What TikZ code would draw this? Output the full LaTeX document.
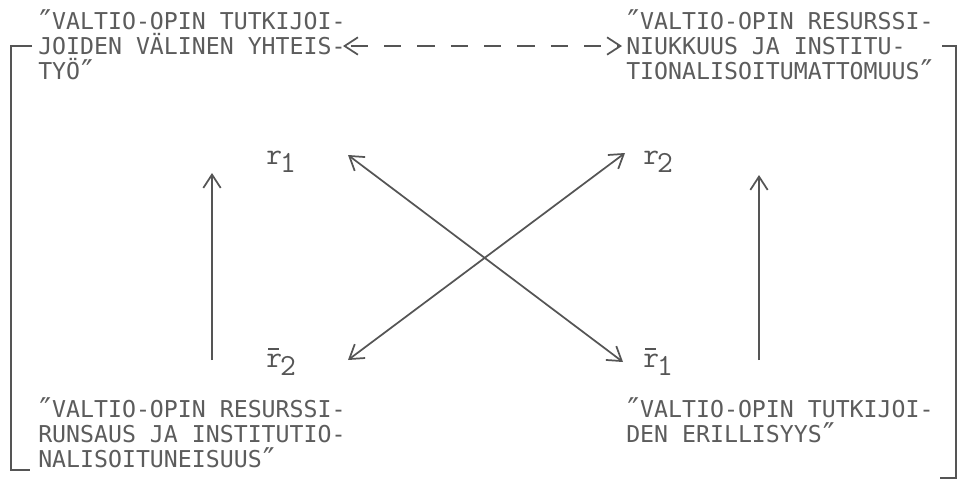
\documentclass[tikz,border=0pt]{standalone}
\usepackage{fontspec}
\newfontfamily\tw{DejaVu Sans Mono}
\newfontfamily\rf{Latin Modern Mono}
\usetikzlibrary{arrows.meta}
\definecolor{ink}{HTML}{555555}
\definecolor{tink}{HTML}{5c5c5c}
\newcommand\rbar{\rlap{\hspace{1.5pt}\raisebox{13pt}{\rule{8pt}{0.9pt}}}r}
\newcommand\sub[1]{\kern-1.5pt\raisebox{-6.5pt}{#1}}
\newcommand\qq{\makebox[0.602em][c]{\raisebox{-2.5pt}{\scalebox{1.35}{″}}}}
\begin{document}
\begin{tikzpicture}[x=0.75pt,y=-0.75pt,
  txt/.style={anchor=base west,inner sep=0pt,text=tink,font=\tw\fontsize{17.4pt}{20pt}\selectfont},
  lab/.style={anchor=base west,inner sep=0pt,text=ink,font=\rf\fontsize{23pt}{26pt}\selectfont},
  ln/.style={draw=ink,line width=1.3pt},
  tip/.tip={Straight Barb[length=10pt,width=13pt]},
  arr/.style={ln,-tip},
  darr/.style={ln,tip-tip},
]
\useasboundingbox (0,0) rectangle (962,483);
\fill[white] (0,0) rectangle (962,483);

% text blocks
\node[txt] (tl1) at (38,29) {\qq VALTIO-OPIN TUTKIJOI-};
\node[txt] (tl2) at (38,54) {JOIDEN VÄLINEN YHTEIS-};
\node[txt] (tl3) at (38,79) {TYÖ\qq};
\node[txt] (tr1) at (626,29) {\qq VALTIO-OPIN RESURSSI-};
\node[txt] (tr2) at (626,54) {NIUKKUUS JA INSTITU-};
\node[txt] (tr3) at (626,79) {TIONALISOITUMATTOMUUS\qq};
\node[txt] (bl1) at (38,417) {\qq VALTIO-OPIN RESURSSI-};
\node[txt] (bl2) at (38,442) {RUNSAUS JA INSTITUTIO-};
\node[txt] (bl3) at (38,467) {NALISOITUNEISUUS\qq};
\node[txt] (br1) at (626,417) {\qq VALTIO-OPIN TUTKIJOI-};
\node[txt] (br2) at (626,442) {DEN ERILLISYYS\qq};

% labels
\node[lab] (r1) at (266,164) {r\sub{1}};
\node[lab] (r2) at (643,164) {r\sub{2}};
\node[lab] (rb2) at (266,367) {\rbar\sub{2}};
\node[lab] (rb1) at (643,367) {\rbar\sub{1}};

% brackets
\draw[ln] (32,46) -- (11,46) -- (11,470) -- (30,470);
\draw[ln] (942,46) -- (956,46) -- (956,478) -- (940,478);

% dashed double arrow
\coordinate (dL) at (343,46);
\coordinate (dR) at (622,46);
\draw[darr,dash pattern=on 13pt off 12pt,dash phase=-4pt] (dL) -- (dR);

% cross arrows
\coordinate (a1) at (348,155);
\coordinate (a2) at (623,362);
\coordinate (b1) at (625,153);
\coordinate (b2) at (348,360);
\draw[darr] (a1) -- (a2);
\draw[darr] (b1) -- (b2);

% vertical arrows
\coordinate (vl0) at (212,360);
\coordinate (vl1) at (212,173);
\coordinate (vr0) at (759,360);
\coordinate (vr1) at (759,175);
\draw[arr] (vl0) -- (vl1);
\draw[arr] (vr0) -- (vr1);
\end{tikzpicture}
\end{document}
